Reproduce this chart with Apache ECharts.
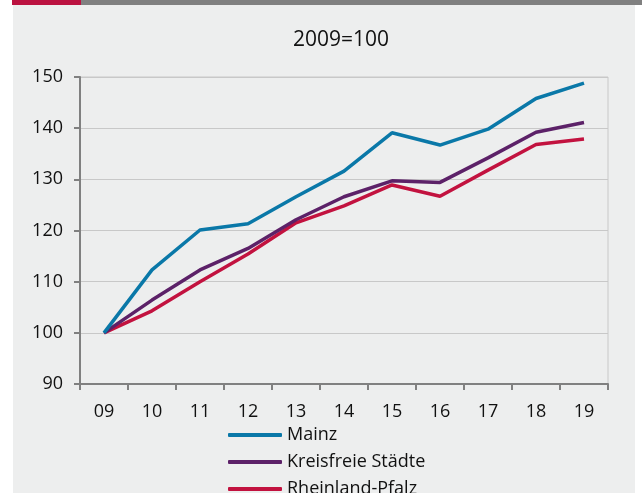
<!DOCTYPE html>
<html>
<head>
<meta charset="utf-8">
<script src="https://cdn.jsdelivr.net/npm/echarts@6/dist/echarts.min.js"></script>
<style>
  html, body { margin: 0; padding: 0; background: #ffffff; }
  #chart { width: 642px; height: 493px; }
</style>
</head>
<body>
<div id="chart"></div>
<script>
// Index, 2009 = 100
const years = ['09', '10', '11', '12', '13', '14', '15', '16', '17', '18', '19'];
const mainz = [100, 112.3, 120.1, 121.3, 126.6, 131.6, 139.1, 136.7, 139.8, 145.8, 148.8];
const kreisfreie = [100, 106.4, 112.3, 116.5, 122.1, 126.6, 129.7, 129.4, 134.2, 139.2, 141.1];
const rheinland = [100, 104.3, 110.0, 115.4, 121.5, 124.8, 128.9, 126.7, 131.8, 136.8, 137.9];
const seriesNames = ['Mainz', 'Kreisfreie Städte', 'Rheinland-Pfalz'];
const colors = ['#0a78a8', '#5c2168', '#c2123f'];

const font = '"Open Sans", "Noto Sans", sans-serif';
const chart = echarts.init(document.getElementById('chart'));

function line(name, data, i) {
    return {
        name: name,
        type: 'line',
        data: data,
        symbol: 'none',
        z: 5 - i,
        lineStyle: { color: colors[i], width: 3.5 },
        itemStyle: { color: colors[i] }
    };
}

chart.setOption({
    animation: false,
    textStyle: { fontFamily: font },
    graphic: [
        { type: 'rect', z: -10, shape: { x: 13, y: 5, width: 622, height: 488 }, style: { fill: '#edeeee' } },
        { type: 'rect', z: -10, shape: { x: 12, y: 0, width: 69, height: 5 }, style: { fill: '#bb1240' } },
        { type: 'rect', z: -10, shape: { x: 81, y: 0, width: 561, height: 5 }, style: { fill: '#808080' } }
    ],
    title: {
        text: '2009=100',
        left: 336,
        top: 25,
        textAlign: 'center',
        textStyle: { fontFamily: font, fontSize: 21, fontWeight: 'normal', color: '#111' }
    },
    grid: {
        left: 80, right: 34, top: 77, bottom: 109,
        show: true, borderColor: '#c8c8c8', borderWidth: 1
    },
    legend: {
        orient: 'vertical',
        left: 228,
        top: 426,
        height: 120,
        padding: 0,
        icon: 'roundRect',
        itemWidth: 54,
        itemHeight: 4,
        itemGap: 9,
        data: seriesNames,
        textStyle: { fontFamily: font, fontSize: 18, color: '#111', lineHeight: 18 }
    },
    xAxis: {
        type: 'category',
        data: years,
        axisLine: { lineStyle: { color: '#808080', width: 2 } },
        axisTick: { show: true, length: 6, interval: 0, lineStyle: { color: '#808080', width: 2 } },
        axisLabel: { fontSize: 18, color: '#111', margin: 19 },
        splitLine: { show: false }
    },
    yAxis: {
        type: 'value',
        min: 90,
        max: 150,
        interval: 10,
        axisLine: { show: true, lineStyle: { color: '#808080', width: 2 } },
        axisTick: { show: true, length: 6, lineStyle: { color: '#808080', width: 2 } },
        axisLabel: { fontSize: 18, color: '#111', margin: 17 },
        splitLine: { lineStyle: { color: '#c8c8c8', width: 1 } }
    },
    series: [
        line(seriesNames[0], mainz, 0),
        line(seriesNames[1], kreisfreie, 1),
        line(seriesNames[2], rheinland, 2)
    ]
});
</script>
</body>
</html>
